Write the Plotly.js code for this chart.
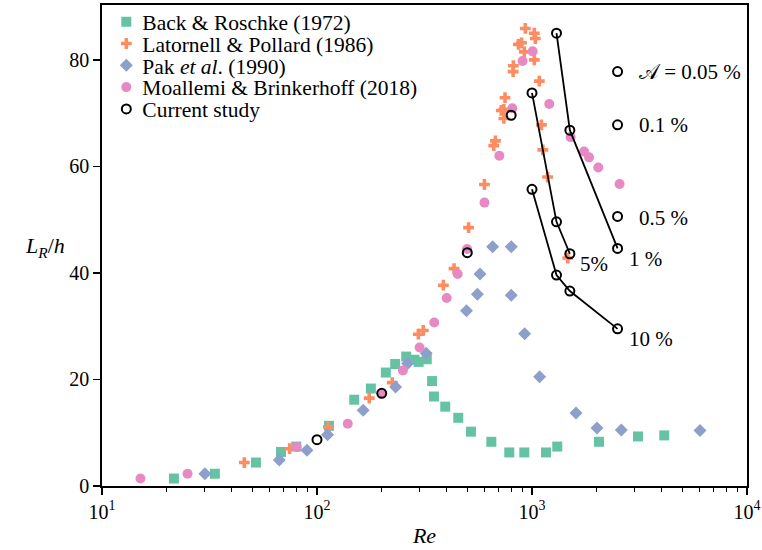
<!DOCTYPE html>
<html><head><meta charset="utf-8">
<script src="https://cdn.plot.ly/plotly-3.0.1.min.js"></script>
<style>html,body{margin:0;padding:0;background:#fff}#chart{width:762px;height:550px}</style>
</head><body><div id="chart"></div>
<script>
// Back & Roschke (1972)
const backRe = [21.6,33.5,52,68,80.1,113.7,149,178,209,231,260,284,297,324,343,350,395,454,520,647,784,921,1162,1311,2049,3112,4123];
const backL  = [1.4,2.3,4.4,6.4,7.4,11.3,16.2,18.3,21.3,22.9,24.3,23.7,23.3,23.8,19.7,16.8,14.9,12.8,10.2,8.3,6.3,6.3,6.3,7.4,8.3,9.3,9.5];
// Latornell & Pollard (1986)
const latRe = [45.9,74.6,113,175,224,296,312,387,434,507,601,664,676,720,740,740,749,819,817,865,894,921,931,1025,1036,1025,1081,1106,1123,1182,1467];
const latL  = [4.4,7.0,11.1,16.5,19.4,28.5,29.2,37.7,40.8,48.5,56.6,63.9,64.8,70.5,70.7,69.0,72.9,78.9,77.8,82.9,83.2,81.5,85.9,85.0,84.0,80.0,76.0,67.8,63.1,58.0,42.8];
// Pak et al. (1990)
const pakRe = [30.1,66.8,89.8,112,164,232,264,322,496,557,573,656,801,801,924,1085,1602,2006,2602,6044];
const pakL  = [2.3,4.9,6.7,9.6,14.2,18.6,23.0,24.9,32.9,36.0,39.8,44.9,44.9,35.8,28.6,20.5,13.7,10.9,10.5,10.4];
// Moallemi & Brinkerhoff (2018)
const moaRe = [15.1,25,80.4,139,201,251,300,351,401,451,499,601,705,810,904,1007,1203,1512,1746,1842,2034,2555];
const moaL  = [1.4,2.3,7.3,11.7,17.4,21.7,26.0,30.7,35.3,39.8,44.5,53.2,62.0,70.9,79.8,81.6,71.7,65.5,62.8,61.7,59.8,56.7];
// Current study
const curLowRe = [100,200,500,800];
const curLowL  = [8.7,17.4,43.8,69.6];
const curKeyRe = [2500,2500,2500];           // A = 0.05 %, 0.1 %, 0.5 %
const curKeyL  = [77.8,67.8,50.6];
const cur1Re = [1300,1500,2500];             // 1 %
const cur1L  = [85.0,66.8,44.6];
const cur5Re = [1000,1300,1500];             // 5%
const cur5L  = [73.8,49.6,43.6];
const cur10Re = [1000,1300,1500,2500];       // 10 %
const cur10L  = [55.7,39.6,36.6,29.5];

const xTickVals = [10,100,1000,10000];
const xTickText = ['10<sup>1</sup>','10<sup>2</sup>','10<sup>3</sup>','10<sup>4</sup>'];
const yTickVals = [0,20,40,60,80];

const minorVals = [];
[10,100,1000].forEach(d => { for (let k = 2; k <= 9; k++) minorVals.push(k*d); });

const FONT = 'Liberation Serif, Times New Roman, serif';

const traces = [
  {x: backRe, y: backL, mode:'markers', type:'scatter', name:'Back &amp; Roschke (1972)',
   marker:{symbol:'square', size:10, color:'#66c2a5'}},
  {x: latRe, y: latL, mode:'markers', type:'scatter', name:'Latornell &amp; Pollard (1986)',
   marker:{symbol:'cross', size:9, color:'#fc8d62'}},
  {x: pakRe, y: pakL, mode:'markers', type:'scatter', name:'Pak <i>et al</i>. (1990)',
   marker:{symbol:'diamond', size:10, color:'#8da0cb'}},
  {x: moaRe, y: moaL, mode:'markers', type:'scatter', name:'Moallemi &amp; Brinkerhoff (2018)',
   marker:{symbol:'circle', size:10, color:'#e78ac3'}},
  {x: cur1Re, y: cur1L, mode:'lines', showlegend:false, line:{color:'#000', width:1.8}},
  {x: cur5Re, y: cur5L, mode:'lines', showlegend:false, line:{color:'#000', width:1.8}},
  {x: cur10Re, y: cur10L, mode:'lines', showlegend:false, line:{color:'#000', width:1.8}},
  {x: curLowRe.concat(curKeyRe, cur1Re, cur5Re, cur10Re),
   y: curLowL.concat(curKeyL, cur1L, cur5L, cur10L),
   mode:'markers', type:'scatter', name:'Current study',
   marker:{symbol:'circle-open', size:9, color:'#000', line:{color:'#000', width:2}}}
];

const lg = v => Math.log10(v);
const ann = (text, re, L, xanchor) => ({text, x: lg(re), y: L, xref:'x', yref:'y', xanchor: xanchor||'left', yanchor:'middle',
  showarrow:false, font:{family:FONT, size:21, color:'#000'}});

const layout = {
  width:762, height:550,
  margin:{l:101.7, r:15.3, t:5, b:64},
  paper_bgcolor:'#fff', plot_bgcolor:'#fff',
  font:{family:FONT, size:20, color:'#000'},
  xaxis:{type:'log', range:[1,4], tickmode:'array', tickvals:xTickVals, ticktext:xTickText,
    ticks:'outside', ticklen:7, tickwidth:1.5, tickcolor:'#000',
    showline:true, linewidth:1.7, linecolor:'#000', mirror:true, showgrid:false, zeroline:false,
    tickfont:{family:FONT, size:20, color:'#000'},
    minor:{tickmode:'array', tickvals:minorVals, ticks:'outside', ticklen:4, tickwidth:1.2, tickcolor:'#000', showgrid:false},
    title:{text:'<i>Re</i>', font:{family:FONT, size:22, color:'#000'}, standoff:6}},
  yaxis:{range:[0,90.3], tickmode:'array', tickvals:yTickVals,
    ticks:'outside', ticklen:7, tickwidth:1.5, tickcolor:'#000',
    showline:true, linewidth:1.7, linecolor:'#000', mirror:true, showgrid:false, zeroline:false,
    tickfont:{family:FONT, size:20, color:'#000'}},
  legend:{x:0.0067, y:1, xanchor:'left', yanchor:'top', bgcolor:'rgba(0,0,0,0)', borderwidth:0,
    font:{family:FONT, size:21.5, color:'#000'}, itemwidth:30, tracegroupgap:0},
  annotations:[
    {text:'<i>L</i><sub><i>R</i></sub>/<i>h</i>', xref:'paper', yref:'paper', x:-0.088, y:0.497,
     xanchor:'center', yanchor:'middle', showarrow:false, font:{family:FONT, size:22, color:'#000'}},
    ann('\uD835\uDC9C = 0.05 %', 3080, 77.7),
    ann('0.1 %', 3080, 67.8),
    ann('0.5 %', 3080, 50.4),
    ann('1 %', 2780, 42.6),
    ann('5%', 1630, 41.7),
    ann('10 %', 2780, 27.6)
  ]
};

Plotly.newPlot('chart', traces, layout, {staticPlot:true, displayModeBar:false}).then(() => {
  const items = document.querySelectorAll('.legend .traces');
  const targets = [21.7, 43.5, 65.3, 87.1, 108.9];
  const textLeft = 142.3;
  items.forEach((g, i) => {
    const tr = g.getAttribute('transform') || '';
    const m = tr.match(/translate\(([-\d.e]+)[ ,]+([-\d.e]+)\)/);
    if (!m) return;
    const tx = parseFloat(m[1]);
    const ty = parseFloat(m[2]);
    const bb = g.getBoundingClientRect();
    const center = bb.top + bb.height / 2;
    const shift = targets[i] - center;
    g.setAttribute('transform', 'translate(' + tx + ',' + (ty + shift) + ')');
    const t = g.querySelector('text.legendtext');
    if (t) {
      const tb = t.getBoundingClientRect();
      const dx = textLeft - tb.left;
      const x0 = parseFloat(t.getAttribute('x') || '0');
      t.setAttribute('x', x0 + dx);
      t.querySelectorAll('tspan[x]').forEach(s => s.setAttribute('x', parseFloat(s.getAttribute('x')) + dx));
    }
  });
});
</script></body></html>
